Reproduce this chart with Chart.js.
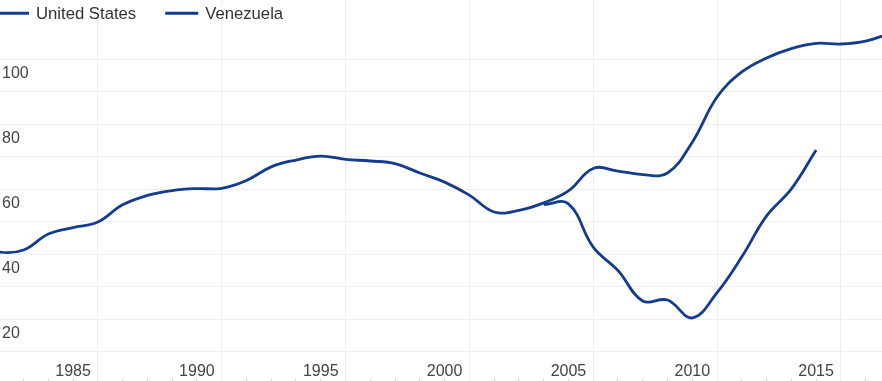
<!DOCTYPE html>
<html>
<head>
<meta charset="utf-8">
<script src="https://cdn.jsdelivr.net/npm/chart.js@4.4.1/dist/chart.umd.min.js"></script>
<style>
  html, body { margin: 0; padding: 0; background: #ffffff; }
  #wrap { position: relative; width: 882px; height: 381px; }
</style>
</head>
<body>
<div id="wrap"><canvas id="chart"></canvas></div>
<script>
// ---- data ----
const years = [1981, 1982, 1983, 1984, 1985, 1986, 1987, 1988, 1989, 1990,
               1991, 1992, 1993, 1994, 1995, 1996, 1997, 1998, 1999, 2000,
               2001, 2002, 2003, 2004, 2005, 2006, 2007, 2008, 2009, 2010,
               2011, 2012, 2013, 2014, 2015, 2016, 2017, 2018];
const unitedStates = [43.5, 40.7, 41.3, 46.2, 48.2, 49.9, 55.2, 58.1, 59.6, 60.2,
                      60.3, 62.7, 66.9, 69.0, 70.2, 69.2, 68.7, 67.9, 65.0, 62.2,
                      58.2, 53.0, 53.5, 55.8, 59.5, 66.4, 65.6, 64.5, 65.0, 74.5,
                      88.4, 96.1, 100.4, 103.3, 104.9, 104.7, 105.6, 108.0];
const venezuelaYears = [2004, 2005, 2006, 2007, 2008, 2009, 2010, 2011, 2012, 2013, 2014, 2015];
const venezuela = [55.3, 55.5, 42.2, 35.0, 25.6, 25.9, 20.4, 28.2, 39.2, 51.8, 60.1, 72.1];
const seriesNames = ['United States', 'Venezuela'];
const xLabelYears = [1985, 1990, 1995, 2000, 2005, 2010, 2015];
const yTickValues = [10, 20, 30, 40, 50, 60, 70, 80, 90, 100];
const yLabelValues = [20, 40, 60, 80, 100];

// ---- styling ----
const LINE = '#143c8e';
const GRID = '#efefef';
const TICKMARK = '#dddddd';
const TEXT = '#444444';
const FONT = '"Liberation Sans", Arial, sans-serif';
const X_MIN = 1982.05, X_MAX = 2017.66;
const Y_MIN = 10, Y_MAX = 118.25;

const pts = (xs, ys) => xs.map((x, i) => ({ x: x, y: ys[i] }));
const yearTicks = [];
for (let y = Math.ceil(X_MIN); y <= Math.floor(X_MAX); y++) yearTicks.push(y);
const gridYears = xLabelYears.map(v => v + 1);

const topLegend = {
  id: 'topLegend',
  afterDraw(chart) {
    const ctx = chart.ctx;
    ctx.save();
    ctx.font = '16.7px ' + FONT;
    ctx.textBaseline = 'alphabetic';
    let x = -4;
    chart.data.datasets.forEach(ds => {
      ctx.strokeStyle = ds.borderColor;
      ctx.lineWidth = 3;
      ctx.beginPath();
      ctx.moveTo(x, 13.3);
      ctx.lineTo(x + 33, 13.3);
      ctx.stroke();
      ctx.fillStyle = '#333333';
      ctx.fillText(ds.label, x + 40, 19);
      x += 40 + ctx.measureText(ds.label).width + 29;
    });
    ctx.restore();
  }
};

new Chart(document.getElementById('chart'), {
  type: 'line',
  data: {
    datasets: [
      { label: seriesNames[0], data: pts(years, unitedStates), borderColor: LINE, backgroundColor: LINE,
        borderWidth: 2.8, pointRadius: 0, tension: 0.4, fill: false },
      { label: seriesNames[1], data: pts(venezuelaYears, venezuela), borderColor: LINE, backgroundColor: LINE,
        borderWidth: 2.8, pointRadius: 0, tension: 0.4, fill: false }
    ]
  },
  options: {
    responsive: true,
    maintainAspectRatio: false,
    animation: false,
    devicePixelRatio: 1,
    layout: { padding: 0 },
    plugins: { legend: { display: false }, tooltip: { enabled: false }, title: { display: false } },
    scales: {
      x: {
        type: 'linear', position: 'bottom', min: X_MIN, max: X_MAX, weight: 0,
        afterBuildTicks: s => { s.ticks = yearTicks.map(v => ({ value: v })); },
        grid: {
          color: c => (c.tick && gridYears.includes(c.tick.value)) ? GRID : 'rgba(0,0,0,0)',
          drawTicks: true, tickLength: 26.3, lineWidth: 1
        },
        border: { display: false },
        ticks: {
          autoSkip: false, maxRotation: 0, minRotation: 0, padding: -16,
          color: TEXT, font: { family: FONT, size: 16 },
          callback: v => xLabelYears.includes(v) ? String(v) : ''
        },
        afterFit: s => { s.height = 26.3; s.paddingLeft = 0; s.paddingRight = 0; }
      },
      xt: {
        type: 'linear', position: 'bottom', min: X_MIN, max: X_MAX, weight: 1,
        afterBuildTicks: s => { s.ticks = yearTicks.map(v => ({ value: v })); },
        grid: { drawOnChartArea: false, drawTicks: true, tickLength: 3,
                color: c => (c.tick && gridYears.includes(c.tick.value)) ? GRID : TICKMARK },
        border: { display: false },
        ticks: { display: false },
        afterFit: s => { s.height = 3; s.paddingLeft = 0; s.paddingRight = 0; }
      },
      y: {
        type: 'linear', position: 'left', min: Y_MIN, max: Y_MAX,
        afterBuildTicks: s => { s.ticks = yTickValues.map(v => ({ value: v })); },
        grid: { color: GRID, drawTicks: false, lineWidth: 1 },
        border: { display: false },
        ticks: {
          mirror: true, padding: 2, labelOffset: 14, crossAlign: 'near',
          color: TEXT, font: { family: FONT, size: 16 },
          callback: v => yLabelValues.includes(v) ? String(v) : ''
        },
        afterFit: s => { s.width = 0; s.paddingTop = 0; s.paddingBottom = 0; }
      }
    }
  },
  plugins: [topLegend]
});
</script>
</body>
</html>
